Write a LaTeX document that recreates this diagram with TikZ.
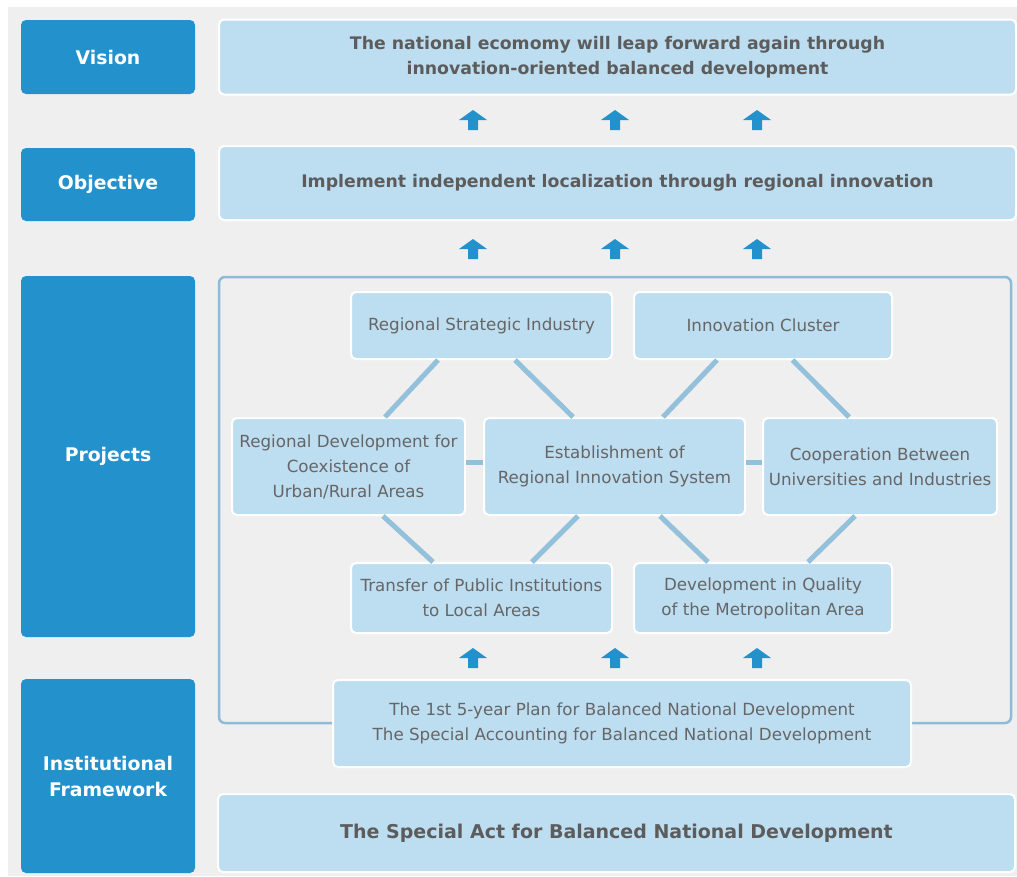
\documentclass[tikz,border=0pt]{standalone}
\usepackage{fontspec}
\setmainfont{DejaVu Sans}
\definecolor{deepblue}{HTML}{2391CB}
\definecolor{paleblue}{HTML}{BDDDF1}
\definecolor{linkblue}{HTML}{93C0DA}
\definecolor{framblue}{HTML}{8EBBD8}
\definecolor{panel}{HTML}{EFEFEF}
\definecolor{txtgray}{HTML}{666666}
\tikzset{
	sidebox/.style={fill=deepblue, rounded corners=5pt, text=white, align=center, inner sep=0pt,
		font=\bfseries\fontsize{18.8}{26}\selectfont},
	card/.style={fill=paleblue, draw=white, line width=2pt, rounded corners=5pt, text=txtgray,
		align=center, inner sep=0pt, font=\fontsize{16.7}{25}\selectfont},
	boldcard/.style={card, text=txtgray!90!black, font=\bfseries\fontsize{17.3}{25}\selectfont},
	link/.style={linkblue, line width=5pt},
	uparr/.pic={\fill[deepblue] (-14,0) -- (0,-10) -- (14,0) -- (5,0) -- (5,10) -- (-5,10) -- (-5,0) -- cycle;}
}
\begin{document}
\begin{tikzpicture}[x=1pt, y=-1pt]
	\useasboundingbox (0,0) rectangle (1017,876);
	\fill[white] (0,0) rectangle (1017,876);
	\fill[panel] (8,7) rectangle (1017,876);

	% left column
	\node[sidebox, minimum width=174, minimum height=74] (vis) at (108,57) {Vision};
	\node[sidebox, minimum width=174, minimum height=73] (obj) at (108,184.5) {Objective};
	\node[sidebox, minimum width=174, minimum height=361] (proj) at (108,456.5) {Projects};
	\node[sidebox, minimum width=174, minimum height=194] (inst) at (108,776) {Institutional\\Framework};

	% vision and objective
	\node[boldcard, minimum width=797, minimum height=75] (vistext) at (617.5,57)
		{The national ecomomy will leap forward again through\\innovation-oriented balanced development};
	\node[boldcard, minimum width=797, minimum height=74] (objtext) at (617.5,183)
		{Implement independent localization through regional innovation};

	\pic at (473,120) {uparr};
	\pic at (615,120) {uparr};
	\pic at (757,120) {uparr};
	\pic at (473,249) {uparr};
	\pic at (615,249) {uparr};
	\pic at (757,249) {uparr};

	% projects
	\node[draw=framblue, line width=2.5pt, rounded corners=6pt, minimum width=792, minimum height=446] (frame) at (615,500) {};

	\node[card, minimum width=261, minimum height=67] (rsi) at (481.5,325.5) {Regional Strategic Industry};
	\node[card, minimum width=258, minimum height=67] (ic) at (763,325.5) {Innovation Cluster};
	\node[card, minimum width=233, minimum height=97] (rdev) at (348.5,466.5)
		{Regional Development for\\Coexistence of\\Urban/Rural Areas};
	\node[card, minimum width=261, minimum height=97] (est) at (614.5,466.5)
		{Establishment of\\Regional Innovation System};
	\node[card, minimum width=234, minimum height=97] (coop) at (880,466.5)
		{Cooperation Between\\Universities and Industries};
	\node[card, minimum width=261, minimum height=70] (trans) at (481.5,598)
		{Transfer of Public Institutions\\to Local Areas};
	\node[card, minimum width=258, minimum height=70] (devq) at (763,598)
		{Development in Quality\\of the Metropolitan Area};

	\draw[link] ([xshift=-43.5pt]rsi.south) -- ([xshift=36.5pt]rdev.north);
	\draw[link] ([xshift=33.5pt]rsi.south) -- ([xshift=-41.5pt]est.north);
	\draw[link] ([xshift=-46pt]ic.south) -- ([xshift=48.5pt]est.north);
	\draw[link] ([xshift=29.5pt]ic.south) -- ([xshift=-31pt]coop.north);
	\draw[link] ([yshift=4pt]rdev.east) -- ([yshift=4pt]est.west);
	\draw[link] ([yshift=4pt]est.east) -- ([yshift=4pt]coop.west);
	\draw[link] ([xshift=34.5pt]rdev.south) -- ([xshift=-48.5pt]trans.north);
	\draw[link] ([xshift=-36.5pt]est.south) -- ([xshift=50.5pt]trans.north);
	\draw[link] ([xshift=45.5pt]est.south) -- ([xshift=-55pt]devq.north);
	\draw[link] ([xshift=-25pt]coop.south) -- ([xshift=45pt]devq.north);

	\pic at (473,658) {uparr};
	\pic at (615,658) {uparr};
	\pic at (757,658) {uparr};

	% institutional framework
	\node[card, minimum width=578, minimum height=87] (plan) at (622,723.5)
		{The 1st 5-year Plan for Balanced National Development\\The Special Accounting for Balanced National Development};
	\node[boldcard, minimum width=797, minimum height=78, font=\bfseries\fontsize{19}{25}\selectfont] (act) at (616.5,833)
		{The Special Act for Balanced National Development};
\end{tikzpicture}
\end{document}
